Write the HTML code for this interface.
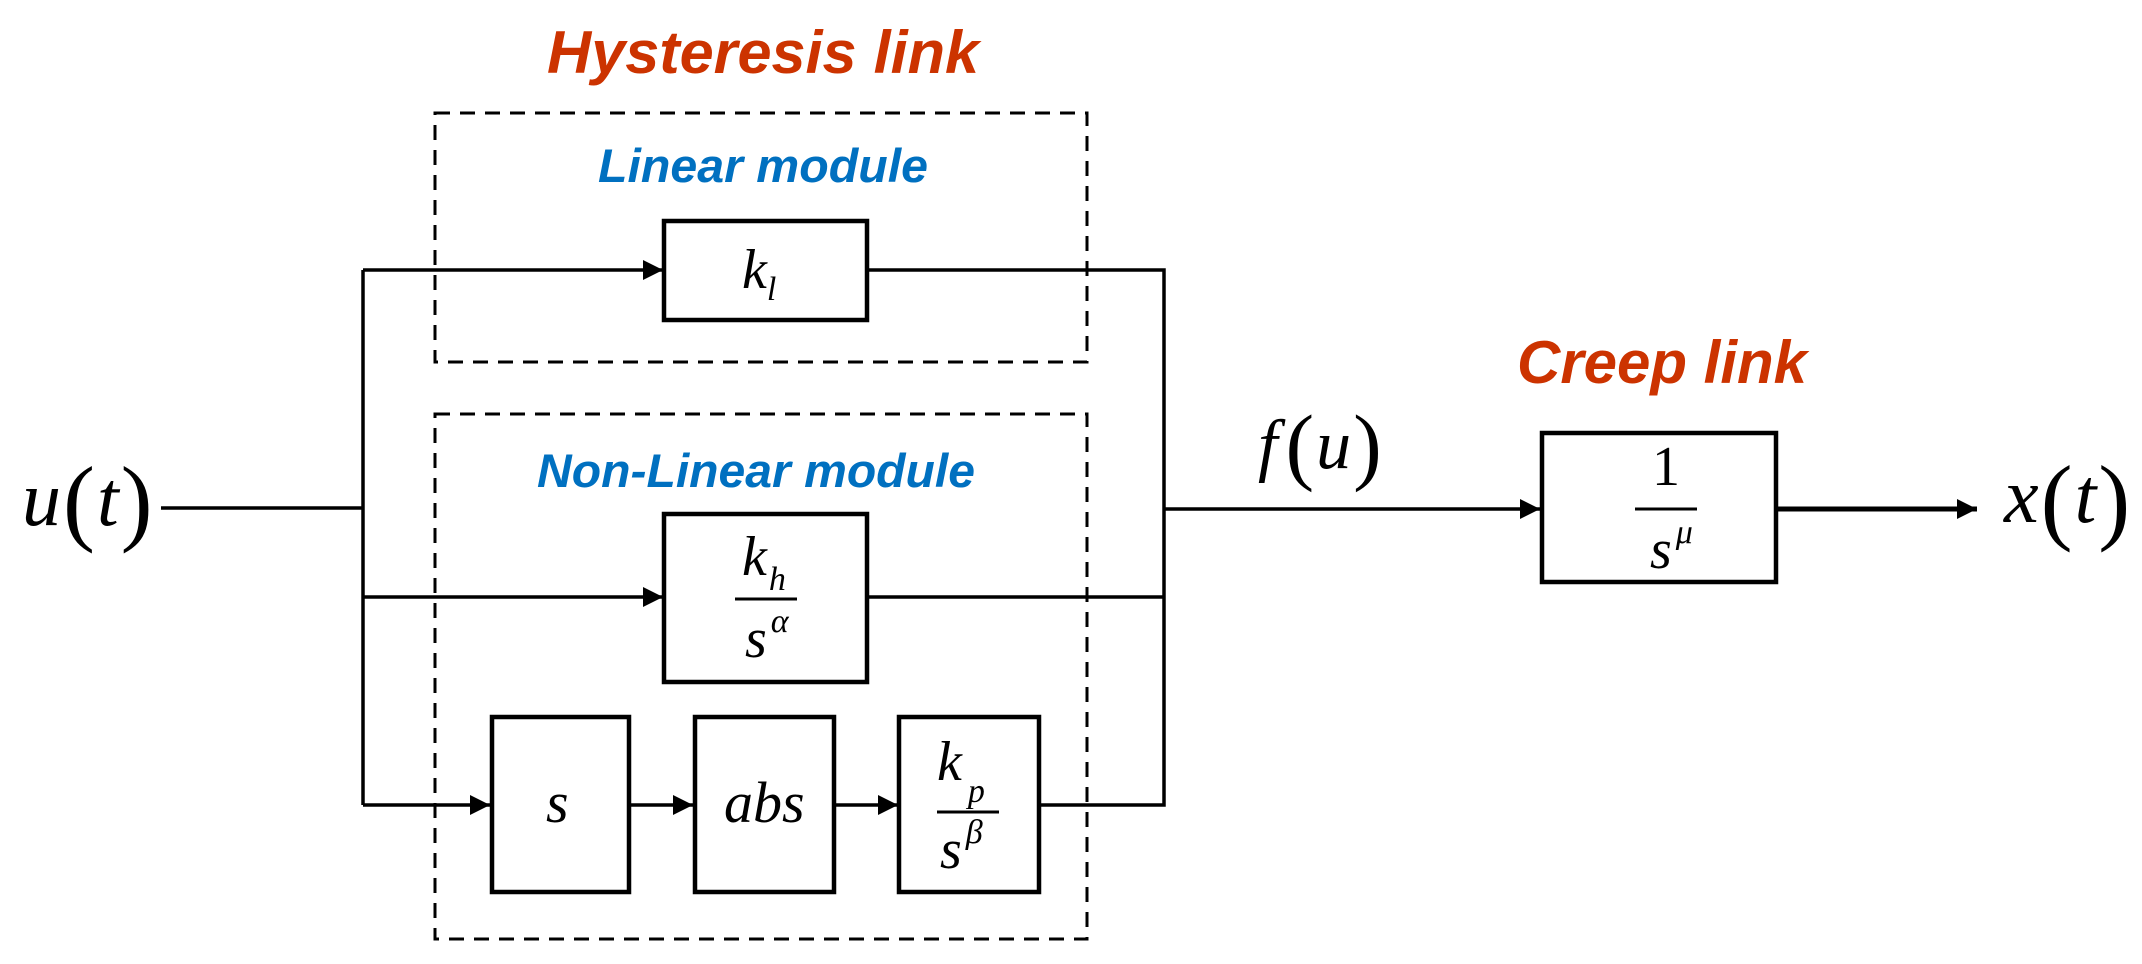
<!DOCTYPE html>
<html><head><meta charset="utf-8"><style>html,body{margin:0;padding:0;background:#fff}svg{display:block}</style></head>
<body>
<svg width="2142" height="964" viewBox="0 0 2142 964" xmlns="http://www.w3.org/2000/svg">
<defs>
<marker id="ah" markerWidth="20" markerHeight="20" refX="20" refY="10" orient="auto" markerUnits="userSpaceOnUse">
<path d="M0,0 L20,10 L0,20 Z" fill="#000"/>
</marker>
</defs>
<g font-family="'Liberation Sans',sans-serif" font-weight="bold" font-style="italic">
<text x="547" y="73" font-size="60" fill="#cc3300" textLength="432" lengthAdjust="spacingAndGlyphs">Hysteresis link</text>
<text x="1517" y="383" font-size="60" fill="#cc3300" textLength="290" lengthAdjust="spacingAndGlyphs">Creep link</text>
<text x="598" y="182" font-size="47" fill="#0070c0" textLength="330" lengthAdjust="spacingAndGlyphs">Linear module</text>
<text x="537" y="487" font-size="47" fill="#0070c0" textLength="438" lengthAdjust="spacingAndGlyphs">Non-Linear module</text>
</g>
<g fill="none" stroke="#000" stroke-width="3" stroke-dasharray="15 10">
<rect x="435" y="113" width="652" height="249"/>
<rect x="435" y="414" width="652" height="525"/>
</g>
<g fill="none" stroke="#000" stroke-width="3.5">
<polyline points="161,508 363,508"/>
<polyline points="363,270 363,805"/>
<line x1="363" y1="270" x2="663" y2="270" marker-end="url(#ah)"/>
<line x1="363" y1="597" x2="663" y2="597" marker-end="url(#ah)"/>
<line x1="363" y1="805" x2="490" y2="805" marker-end="url(#ah)"/>
<line x1="630" y1="805" x2="693" y2="805" marker-end="url(#ah)"/>
<line x1="835" y1="805" x2="898" y2="805" marker-end="url(#ah)"/>
<polyline points="868,270 1164,270 1164,805 1040,805"/>
<line x1="868" y1="597" x2="1164" y2="597"/>
<line x1="1164" y1="509" x2="1540" y2="509" marker-end="url(#ah)"/>
<line x1="1777" y1="509" x2="1977" y2="509" stroke-width="5" marker-end="url(#ah)"/>
</g>
<g fill="#fff" stroke="#000" stroke-width="4.5">
<rect x="664" y="221" width="203" height="99"/>
<rect x="664" y="514" width="203" height="168"/>
<rect x="492" y="717" width="137" height="175"/>
<rect x="695" y="717" width="139" height="175"/>
<rect x="899" y="717" width="140" height="175"/>
<rect x="1542" y="433" width="234" height="149"/>
</g>
<g stroke="#000" stroke-width="3">
<line x1="735" y1="599" x2="797" y2="599"/>
<line x1="937" y1="812" x2="999" y2="812"/>
<line x1="1635" y1="509" x2="1697" y2="509"/>
</g>
<g font-family="'Liberation Serif',serif" font-style="italic" fill="#000">
<text x="742" y="288" font-size="56">k<tspan font-size="34" dy="12">l</tspan></text>
<text x="742" y="575" font-size="56">k<tspan font-size="34" dx="2" dy="15">h</tspan></text>
<text x="745" y="657" font-size="56">s<tspan font-size="34" dx="4" dy="-25">α</tspan></text>
<text x="546" y="822" font-size="58">s</text>
<text x="724" y="822" font-size="58">abs</text>
<text x="937" y="780" font-size="56">k<tspan font-size="34" dx="6" dy="22">p</tspan></text>
<text x="940" y="868" font-size="56">s<tspan font-size="34" dx="4" dy="-25">β</tspan></text>
<text x="1650" y="568" font-size="56">s<tspan font-size="34" dx="4" dy="-25">μ</tspan></text>
<text x="22" y="525" font-size="78">u<tspan font-style="normal" font-size="96" dx="2" dy="8">(</tspan><tspan dx="2" dy="-8">t</tspan><tspan font-style="normal" font-size="96" dx="2" dy="8">)</tspan></text>
<text x="2004" y="522" font-size="78">x<tspan font-style="normal" font-size="96" dx="2" dy="10">(</tspan><tspan dx="2" dy="-10">t</tspan><tspan font-style="normal" font-size="96" dx="2" dy="10">)</tspan></text>
<text x="1258" y="468" font-size="70">f<tspan font-style="normal" font-size="86" dx="8" dy="6">(</tspan><tspan dx="2" dy="-6">u</tspan><tspan font-style="normal" font-size="86" dx="2" dy="6">)</tspan></text>
</g>
<text x="1666" y="485" font-family="'Liberation Serif',serif" font-size="56" text-anchor="middle">1</text>
</svg>
</body></html>
